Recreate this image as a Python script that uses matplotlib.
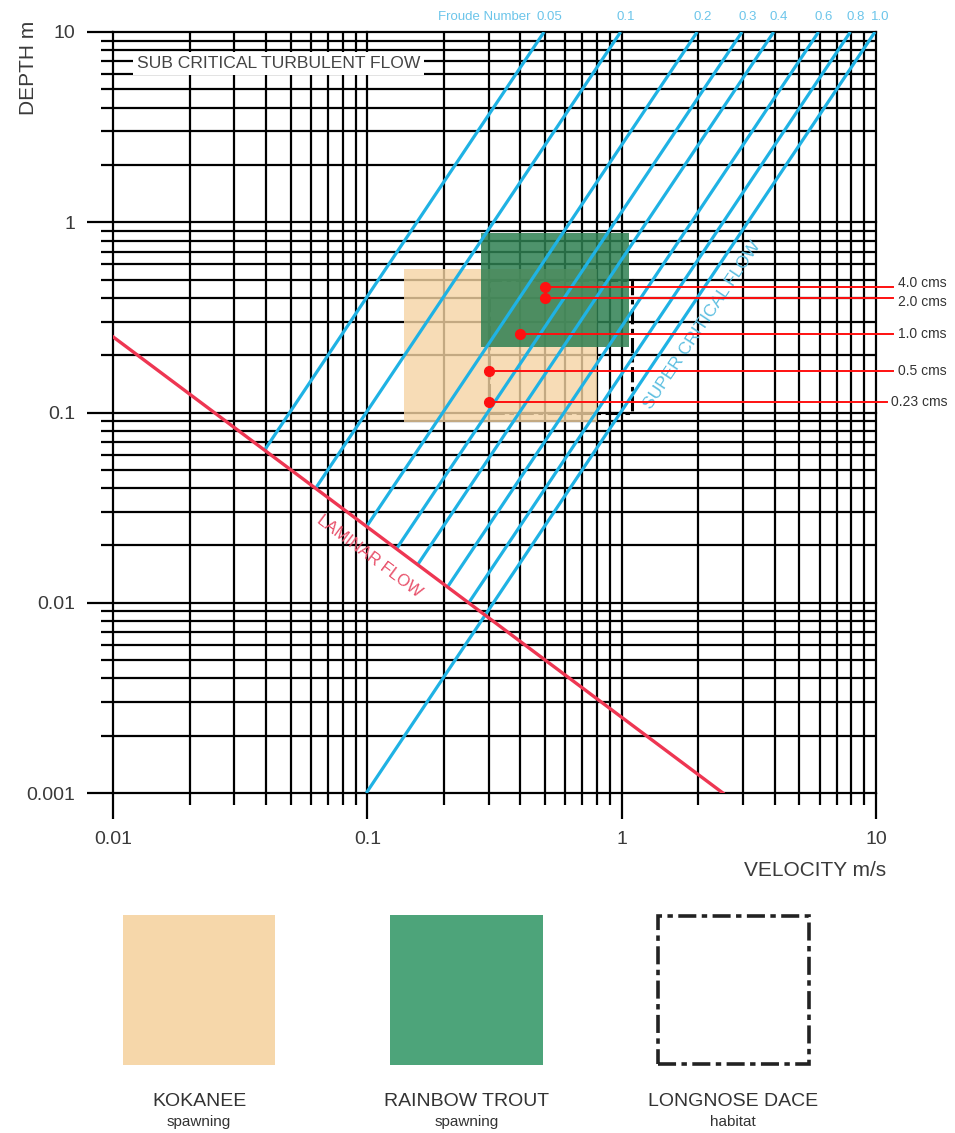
import numpy as np
import matplotlib
matplotlib.use("Agg")
import matplotlib.pyplot as plt
from matplotlib.patches import Rectangle
from matplotlib.ticker import FixedLocator, NullFormatter

plt.rcParams['font.family'] = ['Liberation Sans', 'DejaVu Sans']

# ---- data ----
g = 9.81
froude_numbers = [0.05, 0.1, 0.2, 0.3, 0.4, 0.6, 0.8, 1.0]
froude_labels = ['0.05', '0.1', '0.2', '0.3', '0.4', '0.6', '0.8', '1.0']
laminar_velocity = [0.01, 2.5]
laminar_depth = [0.25, 0.001]
laminar_vd = laminar_velocity[0] * laminar_depth[0]   # V*d on the laminar limit

# habitat boxes: (v_min, v_max, d_min, d_max)
kokanee_box = (0.14, 0.80, 0.089, 0.57)
trout_box = (0.28, 1.07, 0.22, 0.88)
dace_box = (0.30, 1.10, 0.10, 0.50)

# discharge points
flow_labels = ['4.0 cms', '2.0 cms', '1.0 cms', '0.5 cms', '0.23 cms']
flow_velocity = [0.50, 0.50, 0.40, 0.30, 0.30]
flow_depth = [0.455, 0.40, 0.26, 0.166, 0.113]

x_ticks = [0.01, 0.1, 1, 10]
x_ticklabels = ['0.01', '0.1', '1', '10']
y_ticks = [0.001, 0.01, 0.1, 1, 10]
y_ticklabels = ['0.001', '0.01', '0.1', '1', '10']

W, H = 955, 1133
fig = plt.figure(figsize=(W / 100, H / 100), dpi=100)
ax = fig.add_axes([113 / W, 1 - 793 / H, (876 - 113) / W, (793 - 32) / H])
ax.set_xscale('log')
ax.set_yscale('log')
ax.set_xlim(0.01, 10)
ax.set_ylim(0.001, 10)
for s in ax.spines.values():
    s.set_visible(False)

minor = [m * 10.0 ** e for e in range(-3, 1) for m in range(2, 10)]
ax.xaxis.set_major_locator(FixedLocator(x_ticks))
ax.yaxis.set_major_locator(FixedLocator(y_ticks))
ax.xaxis.set_minor_locator(FixedLocator([v for v in minor if 0.01 < v < 10]))
ax.yaxis.set_minor_locator(FixedLocator([v for v in minor if 0.001 < v < 10]))
ax.set_xticklabels(x_ticklabels)
ax.set_yticklabels(y_ticklabels)
ax.xaxis.set_minor_formatter(NullFormatter())
ax.yaxis.set_minor_formatter(NullFormatter())
ax.tick_params(which='major', direction='out', length=19, width=1.6, color='black',
               labelsize=14, labelcolor='#3a3a3a')
ax.tick_params(axis='x', which='major', pad=8)
ax.tick_params(axis='y', which='major', pad=8)
ax.tick_params(which='minor', direction='out', length=8.5, width=1.6, color='black')
ax.grid(which='both', color='black', lw=1.6)
for gl in ax.get_xgridlines() + ax.get_ygridlines():
    gl.set_clip_on(False)

# habitat regions
dace = Rectangle((dace_box[0], dace_box[2]), dace_box[1] - dace_box[0], dace_box[3] - dace_box[2],
                 fill=False, ec='black', lw=2.2, ls=(0, (5, 1.5, 1.5, 1.5)), zorder=2)
ax.add_patch(dace)
ax.add_patch(Rectangle((kokanee_box[0], kokanee_box[2]), kokanee_box[1] - kokanee_box[0],
                       kokanee_box[3] - kokanee_box[2], fc='#F5D4A4', ec='none', alpha=0.8, zorder=2.2))
ax.add_patch(Rectangle((trout_box[0], trout_box[2]), trout_box[1] - trout_box[0],
                       trout_box[3] - trout_box[2], fc='#2F8052', ec='none', alpha=0.85, zorder=2.4))

# froude lines: d = V^2 / (g Fr^2), starting on the laminar limit
blue = '#1FB2E4'
for fr, lab in zip(froude_numbers, froude_labels):
    if fr == 1.0:
        v_lo = fr * np.sqrt(g * 0.001)
    else:
        v_lo = (laminar_vd * g * fr ** 2) ** (1 / 3)
    v_hi = min(fr * np.sqrt(g * 10), 10)
    v = np.array([v_lo, v_hi])
    ax.plot(v, v ** 2 / (g * fr ** 2), color=blue, lw=2.3, zorder=3, solid_capstyle='butt')
    ax.text(v_hi * 1.05, 12, lab, ha='center', va='center',
            fontsize=9.5, color='#6CC5EA', clip_on=False)
ax.text(0.44, 12, 'Froude Number', ha='right', va='center', fontsize=9.5, color='#6CC5EA')

# laminar limit
ax.plot(laminar_velocity, laminar_depth, color='#EE3652', lw=2.4, zorder=3.5)
ang_lam = np.degrees(np.arctan(-190 / 254))
ax.text(0.102, 0.0175, 'LAMINAR FLOW', rotation=ang_lam, rotation_mode='anchor',
        ha='center', va='center', fontsize=12, color='#E8506A', zorder=4)
ang_fr = np.degrees(np.arctan(2 * 190 / 254))
ax.text(2.08, 0.287, 'SUPER CRITICAL FLOW', rotation=ang_fr, rotation_mode='anchor',
        ha='center', va='center', fontsize=12.5, color='#5BBEE0', zorder=4)
ax.text(0.0124, 6.85, 'SUB CRITICAL TURBULENT FLOW', ha='left', va='center', fontsize=12.6,
        color='#444444', zorder=5,
        bbox=dict(fc='white', ec='none', pad=3))

# discharge markers
label_shift = {'4.0 cms': 3, '2.0 cms': -3}
for lab, v, d in zip(flow_labels, flow_velocity, flow_depth):
    end = 11.0 if lab == '0.23 cms' else 11.7
    ax.plot([v, end], [d, d], color='#FF1010', lw=1.4, zorder=4, clip_on=False)
    ax.plot(v, d, 'o', color='#FF1010', ms=7, zorder=4.5)
    ax.annotate(lab, (end * 1.04, d), xytext=(0, label_shift.get(lab, 0)),
                textcoords='offset points', ha='left', va='center', fontsize=10,
                color='#333333', annotation_clip=False)

fig.text(28 / W, 1 - 68 / H, 'DEPTH m', rotation=90, ha='center', va='center',
         fontsize=15, color='#3a3a3a')
fig.text(815 / W, 1 - 870 / H, 'VELOCITY m/s', ha='center', va='center',
         fontsize=15, color='#3a3a3a')

# legend swatches
def px_rect(x0, y0, x1, y1, **kw):
    return Rectangle((x0 / W, 1 - y1 / H), (x1 - x0) / W, (y1 - y0) / H,
                     transform=fig.transFigure, **kw)

fig.add_artist(px_rect(123, 915, 275, 1065, fc='#F6D7AA', ec='none'))
fig.add_artist(px_rect(390, 915, 543, 1065, fc='#4DA47A', ec='none'))
fig.add_artist(px_rect(658, 916, 809, 1064, fill=False, ec='#222222', lw=2.6,
                       ls=(0, (5, 1.5, 1.5, 1.5))))

legend_names = ['KOKANEE', 'RAINBOW TROUT', 'LONGNOSE DACE']
legend_subs = ['spawning', 'spawning', 'habitat']
legend_cx = [199, 467, 733]
for name, sub, cx in zip(legend_names, legend_subs, legend_cx):
    fig.text(cx / W, 1 - 1101 / H, name, ha='center', va='center', fontsize=14, color='#333333')
    fig.text(cx / W, 1 - 1122 / H, sub, ha='center', va='center', fontsize=11, color='#333333')

fig.savefig('out.png', dpi=100, facecolor='white')
